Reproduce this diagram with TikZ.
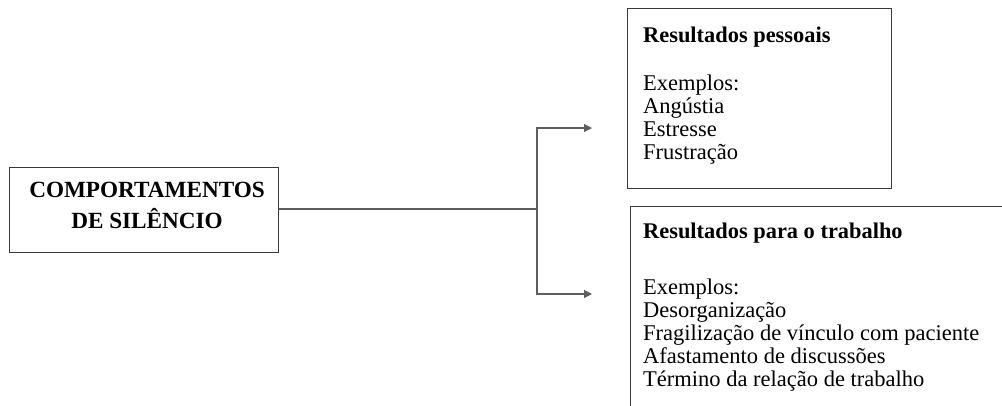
\documentclass[tikz,border=0pt]{standalone}
\usepackage{fontspec}
\setmainfont{Liberation Serif}
\usetikzlibrary{arrows.meta}
\definecolor{boxline}{HTML}{3A3A3A}
\definecolor{conn}{HTML}{5E5E5E}
\begin{document}
\begin{tikzpicture}[x=1pt,y=-1pt,
  boxnode/.style={draw=boxline,line width=1.4pt,rectangle,inner sep=0pt,anchor=north west},
  titletext/.style={inner sep=0pt,anchor=base west,font=\fontsize{22.4}{23}\selectfont\bfseries},
  bodytext/.style={inner sep=0pt,anchor=base west,align=left,font=\fontsize{22.5}{23}\selectfont},
  conntext/.style={draw=conn,line width=1.1pt},
  arr/.style={conntext,-{Triangle[length=8pt,width=8pt]}}]
\clip (0,0) rectangle (1002,405);
\fill[white] (0,0) rectangle (1002,405);
% left box
\node[boxnode,minimum width=269pt,minimum height=85pt] (src) at (9,167) {};
\node[inner sep=0pt,anchor=base,align=center,font=\fontsize{23.2}{31}\selectfont\bfseries] (srct) at (147,228) {COMPORTAMENTOS\\DE SILÊNCIO};
% top box
\node[boxnode,minimum width=264pt,minimum height=180pt] (pers) at (627,8) {};
\node[titletext] (perst) at (643,42) {Resultados pessoais};
\node[bodytext] (persb) at (643,159) {Exemplos:\\Angústia\\Estresse\\Frustração};
% bottom box (extends beyond the picture)
\node[boxnode,minimum width=400pt,minimum height=220pt] (work) at (630,206) {};
\node[titletext] (workt) at (643,238) {Resultados para o trabalho};
\node[bodytext] (workb) at (643,386) {Exemplos:\\Desorganização\\Fragilização de vínculo com paciente\\Afastamento de discussões\\Término da relação de trabalho};
% connectors
\coordinate (split) at (537,209);
\coordinate (topcorner) at (537,128);
\coordinate (botcorner) at (537,294);
\coordinate (toptip) at (592,128);
\coordinate (bottip) at (592,294);
\draw[conntext] (src.east |- split) -- (split);
\draw[arr] (split) -- (topcorner) -- (toptip);
\draw[arr] (split) -- (botcorner) -- (bottip);
\end{tikzpicture}
\end{document}
